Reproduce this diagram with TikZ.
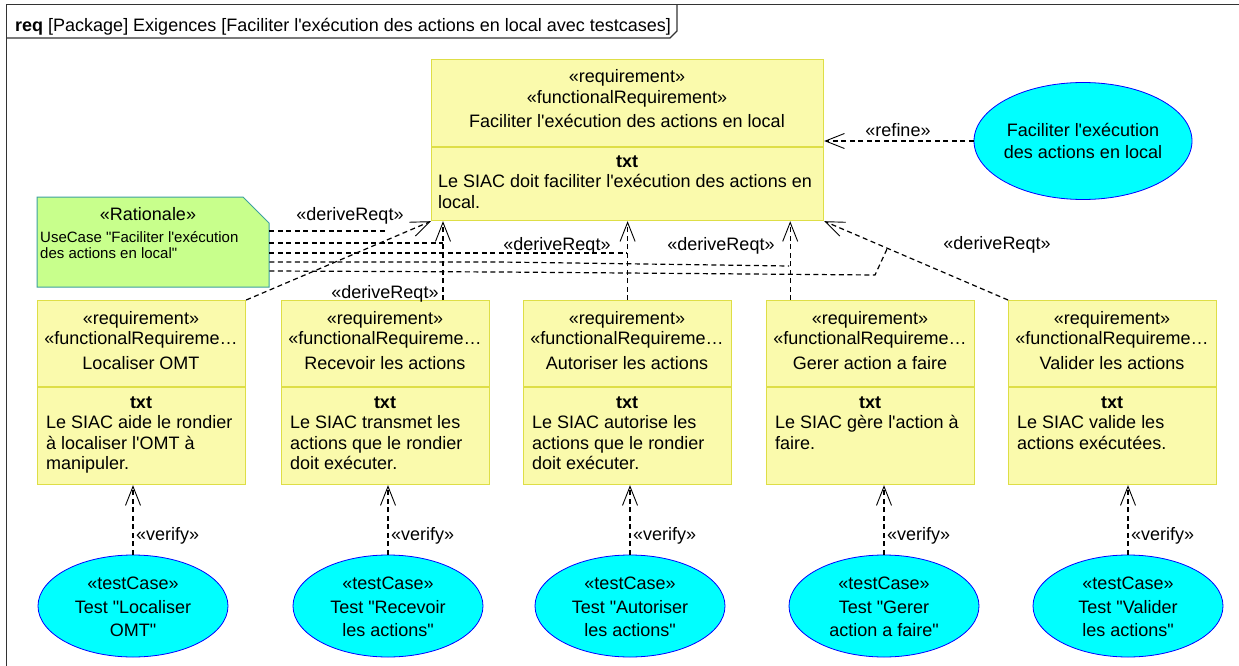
\documentclass[tikz,border=0pt]{standalone}
\usepackage{fontspec}
\newfontfamily\arialf{Liberation Sans}
\usetikzlibrary{arrows.meta,shapes.geometric}
\definecolor{reqfill}{RGB}{250,250,172}
\definecolor{reqdraw}{RGB}{222,222,70}
\definecolor{notefill}{RGB}{200,255,140}
\definecolor{notedraw}{RGB}{60,160,160}
\definecolor{ucfill}{RGB}{0,255,255}
\definecolor{ucdraw}{RGB}{0,0,255}
\tikzset{
 reqbox/.style={draw=reqdraw, fill=reqfill, line width=1.2pt, rectangle, inner sep=0pt},
 compline/.style={draw=reqdraw, line width=1.2pt},
 ucell/.style={draw=ucdraw, fill=ucfill, ellipse, line width=0.8pt, inner sep=0pt},
 t18/.style={font=\arialf\fontsize{18pt}{21pt}\selectfont, inner sep=0pt, anchor=base},
 t18l/.style={t18, anchor=base west},
 t15/.style={font=\arialf\fontsize{15pt}{18pt}\selectfont, inner sep=0pt, anchor=base west},
 dashln/.style={draw, dash pattern=on 5pt off 3.5pt, line width=1.2pt},
 dep/.style={dashln, -{Straight Barb[length=19pt,width=15pt,line width=0.9pt]}},
 framel/.style={draw=black!80, line width=1.2pt},
}
\begin{document}
\begin{tikzpicture}[x=1pt,y=-1pt]
\useasboundingbox (0,0) rectangle (1239,666);
\clip (0,0) rectangle (1239,666);
\fill[white] (0,0) rectangle (1239,666);
% frame
\draw[framel] (6.5,700) -- (6.5,4.5) -- (1260,4.5);
\draw[framel] (6.5,38) -- (670,38) -- (677,31) -- (677,4.5);
\node[t18l] (hdr) at (15,32) {\textbf{req} [Package] Exigences [Faciliter l'exécution des actions en local avec testcases]};

% top requirement
\node[reqbox, minimum width=392pt, minimum height=161pt, anchor=north west] (top) at (431,59) {};
\draw[compline] (431,147) -- (823,147);
\node[t18] (top1) at (627,83) {«requirement»};
\node[t18] (top2) at (627,104) {«functionalRequirement»};
\node[t18] (top3) at (627,128) {Faciliter l'exécution des actions en local};
\node[t18] (top4) at (627,167) {\textbf{txt}};
\node[t18l] (top5) at (438,187) {Le SIAC doit faciliter l'exécution des actions en};
\node[t18l] (top6) at (438,208) {local.};

% refine use case
\node[ucell, minimum width=218pt, minimum height=117pt] (uc) at (1083,141) {};
\node[t18] (uc1) at (1083,136) {Faciliter l'exécution};
\node[t18] (uc2) at (1083,158) {des actions en local};
\draw[dep] (uc.west) -- (uc.west -| top.east);
\node[t18] (lref) at (898,136) {«refine»};

% bottom requirements
\node[reqbox, minimum width=208pt, minimum height=184pt, anchor=north west] (loc) at (37,300) {};
\node[reqbox, minimum width=208pt, minimum height=184pt, anchor=north west] (rec) at (281,300) {};
\node[reqbox, minimum width=208pt, minimum height=184pt, anchor=north west] (aut) at (523,300) {};
\node[reqbox, minimum width=208pt, minimum height=184pt, anchor=north west] (ger) at (766,300) {};
\node[reqbox, minimum width=208pt, minimum height=184pt, anchor=north west] (val) at (1008,300) {};
\foreach \b in {loc,rec,aut,ger,val}{
  \draw[compline] (\b.west |- 0,387) -- (\b.east |- 0,387);
}
% texts
\node[t18] (loc1) at (141,324) {«requirement»};
\node[t18] (loc2) at (141,344) {«functionalRequireme…};
\node[t18] (loc3) at (141,369) {Localiser OMT};
\node[t18] (loc4) at (141,408) {\textbf{txt}};
\node[t18l] (loc5) at (46,428) {Le SIAC aide le rondier};
\node[t18l] (loc6) at (46,449) {à localiser l'OMT à};
\node[t18l] (loc7) at (46,469) {manipuler.};

\node[t18] (rec1) at (385,324) {«requirement»};
\node[t18] (rec2) at (385,344) {«functionalRequireme…};
\node[t18] (rec3) at (385,369) {Recevoir les actions};
\node[t18] (rec4) at (385,408) {\textbf{txt}};
\node[t18l] (rec5) at (290,428) {Le SIAC transmet les};
\node[t18l] (rec6) at (290,449) {actions que le rondier};
\node[t18l] (rec7) at (290,469) {doit exécuter.};

\node[t18] (aut1) at (627,324) {«requirement»};
\node[t18] (aut2) at (627,344) {«functionalRequireme…};
\node[t18] (aut3) at (627,369) {Autoriser les actions};
\node[t18] (aut4) at (627,408) {\textbf{txt}};
\node[t18l] (aut5) at (532,428) {Le SIAC autorise les};
\node[t18l] (aut6) at (532,449) {actions que le rondier};
\node[t18l] (aut7) at (532,469) {doit exécuter.};

\node[t18] (ger1) at (870,324) {«requirement»};
\node[t18] (ger2) at (870,344) {«functionalRequireme…};
\node[t18] (ger3) at (870,369) {Gerer action a faire};
\node[t18] (ger4) at (870,408) {\textbf{txt}};
\node[t18l] (ger5) at (775,428) {Le SIAC gère l'action à};
\node[t18l] (ger6) at (775,449) {faire.};

\node[t18] (val1) at (1112,324) {«requirement»};
\node[t18] (val2) at (1112,344) {«functionalRequireme…};
\node[t18] (val3) at (1112,369) {Valider les actions};
\node[t18] (val4) at (1112,408) {\textbf{txt}};
\node[t18l] (val5) at (1017,428) {Le SIAC valide les};
\node[t18l] (val6) at (1017,449) {actions exécutées.};

% test cases
\node[ucell, minimum width=190pt, minimum height=102pt] (tc1) at (133,606) {};
\node[ucell, minimum width=190pt, minimum height=102pt] (tc2) at (388,606) {};
\node[ucell, minimum width=190pt, minimum height=102pt] (tc3) at (630,606) {};
\node[ucell, minimum width=190pt, minimum height=102pt] (tc4) at (884,606) {};
\node[ucell, minimum width=190pt, minimum height=102pt] (tc5) at (1128,606) {};
\node[t18] (tc1a) at (133,589) {«testCase»};
\node[t18] (tc1b) at (133,613) {Test "Localiser};
\node[t18] (tc1c) at (133,636) {OMT"};
\node[t18] (tc2a) at (388,589) {«testCase»};
\node[t18] (tc2b) at (388,613) {Test "Recevoir};
\node[t18] (tc2c) at (388,636) {les actions"};
\node[t18] (tc3a) at (630,589) {«testCase»};
\node[t18] (tc3b) at (630,613) {Test "Autoriser};
\node[t18] (tc3c) at (630,636) {les actions"};
\node[t18] (tc4a) at (884,589) {«testCase»};
\node[t18] (tc4b) at (884,613) {Test "Gerer};
\node[t18] (tc4c) at (884,636) {action a faire"};
\node[t18] (tc5a) at (1128,589) {«testCase»};
\node[t18] (tc5b) at (1128,613) {Test "Valider};
\node[t18] (tc5c) at (1128,636) {les actions"};

% verify
\draw[dep] (tc1.north) -- (tc1.north |- loc.south);
\draw[dep] (tc2.north) -- (tc2.north |- rec.south);
\draw[dep] (tc3.north) -- (tc3.north |- aut.south);
\draw[dep] (tc4.north) -- (tc4.north |- ger.south);
\draw[dep] (tc5.north) -- (tc5.north |- val.south);
\node[t18l] (v1) at (136,540) {«verify»};
\node[t18l] (v2) at (391,540) {«verify»};
\node[t18l] (v3) at (633,540) {«verify»};
\node[t18l] (v4) at (887,540) {«verify»};
\node[t18l] (v5) at (1131,540) {«verify»};

% deriveReqt
\coordinate (d2t) at ([xshift=12pt]top.south west);
\coordinate (d4t) at ([xshift=-34pt]top.south east);
\draw[dep] (loc.north east) -- (top.south west);
\draw[dep] (d2t |- rec.north) -- (d2t);
\draw[dep] (aut.north) -- (aut.north |- top.south);
\draw[dep] (d4t |- ger.north) -- (d4t);
\draw[dep] (val.north west) -- (top.south east);
\node[t18] (dr1) at (350,220) {«deriveReqt»};
\node[t18] (dr2) at (385,298) {«deriveReqt»};
\node[t18] (dr3) at (557,250) {«deriveReqt»};
\node[t18] (dr4) at (721,250) {«deriveReqt»};
\node[t18] (dr5) at (997,249) {«deriveReqt»};

% rationale note
\path[draw=notedraw, fill=notefill, line width=1pt] (37,197) -- (243,197) -- (269,223) -- (269,287) -- (37,287) -- cycle;
\node[minimum width=232pt, minimum height=90pt, inner sep=0pt, anchor=north west] (note) at (37,197) {};
\node[t18] (n1) at (148,220) {«Rationale»};
\node[t15] (n2) at (40,242) {UseCase "Faciliter l'exécution};
\node[t15] (n3) at (40,258) {des actions en local"};

% anchor lines
\coordinate (r1) at (385,231);
\coordinate (r2) at (d2t |- 0,243);
\coordinate (r3) at (627,253);
\coordinate (r4) at (789,266);
\coordinate (r5) at (887,249);
\draw[dashln] ([yshift=-34pt]note.north east) -- (r1);
\draw[dashln] ([yshift=-46pt]note.north east) -- (r2);
\draw[dashln] ([yshift=-56pt]note.north east) -- (r3);
\draw[dashln] ([yshift=-65pt]note.north east) -- (500,262) -- (r4);
\draw[dashln] ([yshift=-74pt]note.north east) -- (500,272) -- (875,275) -- (r5);
\end{tikzpicture}
\end{document}
